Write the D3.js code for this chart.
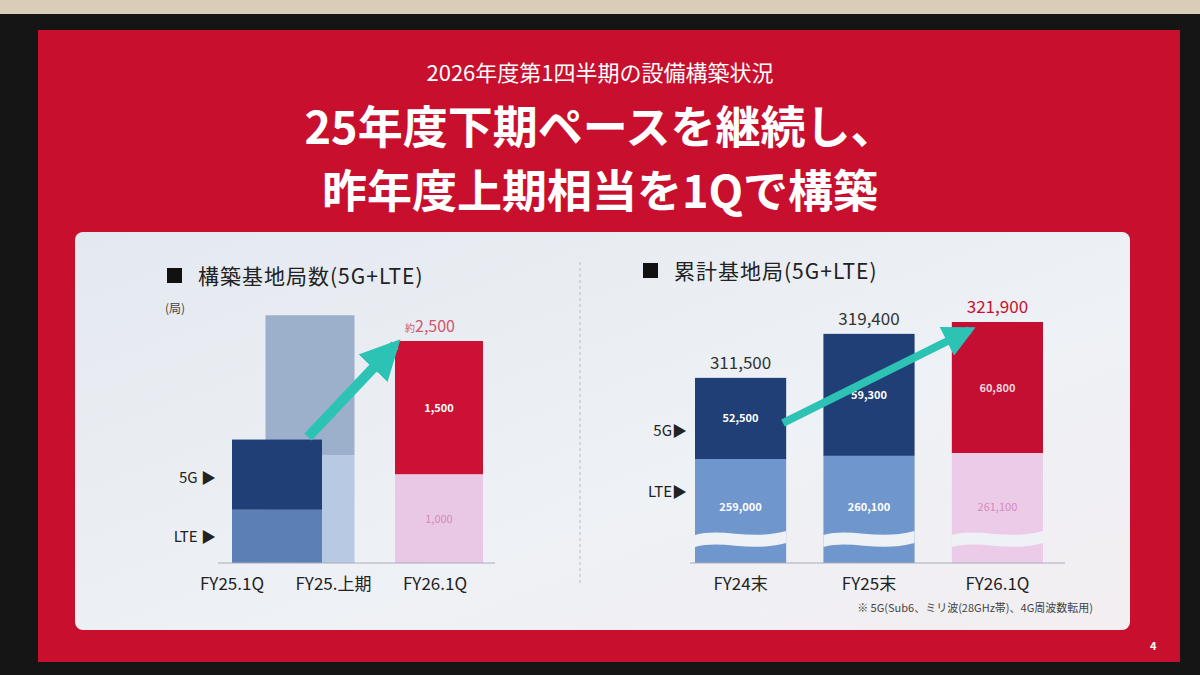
<!DOCTYPE html>
<html><head><meta charset="utf-8">
<script src="https://cdn.jsdelivr.net/npm/d3@7"></script>
<style>body{margin:0;background:#222;}svg{display:block;font-family:"Noto Sans CJK JP","Noto Sans",sans-serif;}</style>
</head><body><svg id="c" width="1200" height="675"></svg>
<script>
// left chart: built stations per period
var leftCats = ["FY25.1Q", "FY25.上期", "FY26.1Q"];
var leftLte = [600, 1215, 1000];
var left5g = [790, 1575, 1500];
var leftLabels = ["", "", "1,500"];
var leftLteLabels = ["", "", "1,000"];
// right chart: cumulative stations
var rightCats = ["FY24末", "FY25末", "FY26.1Q"];
var rightLte = [259000, 260100, 261100];
var right5g = [52500, 59300, 60800];
var rightTotal = [311500, 319400, 321900];

var svg = d3.select("#c");
svg.append("rect").attr("width", 1200).attr("height", 675).attr("fill", "#d9cdb8");
svg.append("rect").attr("x", 0).attr("y", 14).attr("width", 1200).attr("height", 661).attr("fill", "#151515");
svg.append("rect").attr("x", 38).attr("y", 30).attr("width", 1142).attr("height", 632).attr("fill", "#c8102e");

svg.append("text").attr("x", 600).attr("y", 81).attr("text-anchor", "middle")
  .attr("fill", "#fff").attr("font-size", 22).text("2026年度第1四半期の設備構築状況");
svg.append("text").attr("x", 600).attr("y", 144).attr("text-anchor", "middle")
  .attr("fill", "#fff").attr("font-size", 45).attr("font-weight", "bold").text("25年度下期ペースを継続し、");
svg.append("text").attr("x", 600).attr("y", 208).attr("text-anchor", "middle")
  .attr("fill", "#fff").attr("font-size", 45).attr("font-weight", "bold").text("昨年度上期相当を1Qで構築");
svg.append("text").attr("x", 1150).attr("y", 650).attr("fill", "#fff").attr("font-size", 11).attr("font-weight", "bold").text("4");

var defs = svg.append("defs");
var grad = defs.append("linearGradient").attr("id", "pg").attr("x1", 0).attr("x2", 1).attr("y1", 0).attr("y2", 1);
grad.append("stop").attr("offset", 0).attr("stop-color", "#e4e9f0");
grad.append("stop").attr("offset", 0.6).attr("stop-color", "#eef1f5");
grad.append("stop").attr("offset", 1).attr("stop-color", "#f3eef2");
svg.append("rect").attr("x", 75).attr("y", 232).attr("width", 1055).attr("height", 398).attr("rx", 8).attr("fill", "url(#pg)");
svg.append("line").attr("x1", 580).attr("x2", 580).attr("y1", 262).attr("y2", 585)
  .attr("stroke", "#b8bcc4").attr("stroke-dasharray", "3,3");

var arrow = defs.append("marker").attr("id", "ah").attr("viewBox", "0 0 10 10").attr("refX", 8).attr("refY", 5)
  .attr("markerWidth", 4).attr("markerHeight", 4).attr("orient", "auto");
arrow.append("path").attr("d", "M0,0L10,5L0,10Z").attr("fill", "#2cc3b5");

// ---- left chart
var base = 563;
svg.append("rect").attr("x", 167).attr("y", 268).attr("width", 15).attr("height", 15).attr("fill", "#111");
svg.append("text").attr("x", 198).attr("y", 284).attr("font-size", 21).attr("fill", "#222").attr("letter-spacing", 1).text("構築基地局数(5G+LTE)");
svg.append("text").attr("x", 165).attr("y", 313).attr("font-size", 12).attr("fill", "#444").text("(局)");

var yL = d3.scaleLinear().domain([0, 2500]).range([base, 341]);
var xLab = d3.scalePoint().domain(leftCats).range([232, 435]);
var barCenter = [277, 310, 439], barW = [90, 89, 88];
var lteCol = ["#5c80b6", "#b7c9e3", "#e9c8e6"], g5Col = ["#213f77", "#9cb0cc", "#cc1134"];
// draw 上期 first (behind)
[1, 0, 2].forEach(function(i) {
  var x0 = barCenter[i] - barW[i] / 2;
  svg.append("rect").attr("x", x0).attr("width", barW[i]).attr("y", yL(leftLte[i])).attr("height", base - yL(leftLte[i])).attr("fill", lteCol[i]);
  svg.append("rect").attr("x", x0).attr("width", barW[i]).attr("y", yL(leftLte[i] + left5g[i])).attr("height", yL(leftLte[i]) - yL(leftLte[i] + left5g[i])).attr("fill", g5Col[i]);
  if (leftLabels[i]) svg.append("text").attr("x", barCenter[i]).attr("y", yL(leftLte[i] + left5g[i] / 2) + 4).attr("text-anchor", "middle").attr("fill", "#fff").attr("font-size", 11).attr("font-weight", "bold").text(leftLabels[i]);
  if (leftLteLabels[i]) svg.append("text").attr("x", barCenter[i]).attr("y", yL(leftLte[i] / 2) + 4).attr("text-anchor", "middle").attr("fill", "#d58ab8").attr("font-size", 11).text(leftLteLabels[i]);
});
svg.append("text").attr("x", 405).attr("y", 332).attr("fill", "#d0576e").attr("font-size", 10).text("約")
  .append("tspan").attr("font-size", 16).text("2,500");
svg.append("line").attr("x1", 218).attr("x2", 495).attr("y1", base).attr("y2", base).attr("stroke", "#aab");
xLab.domain().forEach(function(c) {
  svg.append("text").attr("x", xLab(c)).attr("y", 590).attr("text-anchor", "middle").attr("font-size", 17).attr("fill", "#222").text(c);
});
svg.append("text").attr("x", 216).attr("y", 483).attr("text-anchor", "end").attr("font-size", 15).attr("fill", "#222").text("5G ▶");
svg.append("text").attr("x", 216).attr("y", 542).attr("text-anchor", "end").attr("font-size", 15).attr("fill", "#222").text("LTE ▶");
svg.append("line").attr("x1", 308).attr("y1", 437).attr("x2", barCenter[2] - 44).attr("y2", yL(2500) + 4)
  .attr("stroke", "#2cc3b5").attr("stroke-width", 10).attr("marker-end", "url(#ah)");

// ---- right chart (broken axis: LTE and 5G on their own scales)
svg.append("rect").attr("x", 643).attr("y", 263).attr("width", 15).attr("height", 15).attr("fill", "#111");
svg.append("text").attr("x", 674).attr("y", 279).attr("font-size", 21).attr("fill", "#222").attr("letter-spacing", 1).text("累計基地局(5G+LTE)");
var xR = d3.scaleBand().domain(rightCats).range([695, 1043]).paddingInner(0.29);
var lteY = d3.scaleLinear().domain([222600, 261100]).range([base, 453]);
var g5H = d3.scaleLinear().domain([39000, 60800]).range([0, 131]);
var rLte = ["#6f97cd", "#6f97cd", "#eccbe9"], r5g = ["#213f77", "#213f77", "#c40f33"];
var waveY = 533;
rightCats.forEach(function(c, i) {
  var x0 = xR(c), w = xR.bandwidth(), ly = lteY(rightLte[i]), ty = ly - g5H(right5g[i]);
  svg.append("rect").attr("x", x0).attr("width", w).attr("y", ly).attr("height", base - ly).attr("fill", rLte[i]);
  svg.append("rect").attr("x", x0).attr("width", w).attr("y", ty).attr("height", ly - ty).attr("fill", r5g[i]);
  // break wave
  var p = "M" + x0 + "," + (waveY + 2) + " C" + (x0 + w * 0.3) + "," + (waveY - 6) + " " + (x0 + w * 0.6) + "," + (waveY + 8) + " " + (x0 + w) + "," + (waveY - 2) +
    " L" + (x0 + w) + "," + (waveY + 10) + " C" + (x0 + w * 0.6) + "," + (waveY + 20) + " " + (x0 + w * 0.3) + "," + (waveY + 6) + " " + x0 + "," + (waveY + 14) + "Z";
  svg.append("path").attr("d", p).attr("fill", "#eef1f5");
  svg.append("text").attr("x", x0 + w / 2).attr("y", (ly + ty) / 2 + 4).attr("text-anchor", "middle").attr("fill", i == 2 ? "#f3d6dc" : "#fff").attr("font-size", 11).attr("font-weight", "bold").text(d3.format(",")(right5g[i]));
  svg.append("text").attr("x", x0 + w / 2).attr("y", 511).attr("text-anchor", "middle").attr("fill", i == 2 ? "#d58ab8" : "#fff").attr("font-size", 11).attr("font-weight", i == 2 ? "normal" : "bold").text(d3.format(",")(rightLte[i]));
  svg.append("text").attr("x", x0 + w / 2).attr("y", ty - 9).attr("text-anchor", "middle").attr("fill", i == 2 ? "#c8102e" : "#333").attr("font-size", 17).text(d3.format(",")(rightTotal[i]));
  svg.append("text").attr("x", x0 + w / 2).attr("y", 590).attr("text-anchor", "middle").attr("font-size", 17).attr("fill", "#222").text(c);
});
svg.append("line").attr("x1", 690).attr("x2", 1065).attr("y1", base).attr("y2", base).attr("stroke", "#aab");
svg.append("text").attr("x", 687).attr("y", 436).attr("text-anchor", "end").attr("font-size", 15).attr("fill", "#222").text("5G▶");
svg.append("text").attr("x", 687).attr("y", 497).attr("text-anchor", "end").attr("font-size", 15).attr("fill", "#222").text("LTE▶");
var lastTop = lteY(rightLte[2]) - g5H(right5g[2]);
svg.append("line").attr("x1", 783).attr("y1", 423).attr("x2", xR(rightCats[2]) + 18).attr("y2", lastTop + 8)
  .attr("stroke", "#2cc3b5").attr("stroke-width", 8).attr("marker-end", "url(#ah)");
svg.append("text").attr("x", 1093).attr("y", 612).attr("text-anchor", "end").attr("font-size", 11).attr("fill", "#444").text("※ 5G(Sub6、ミリ波(28GHz帯)、4G周波数転用)");
</script></body></html>
